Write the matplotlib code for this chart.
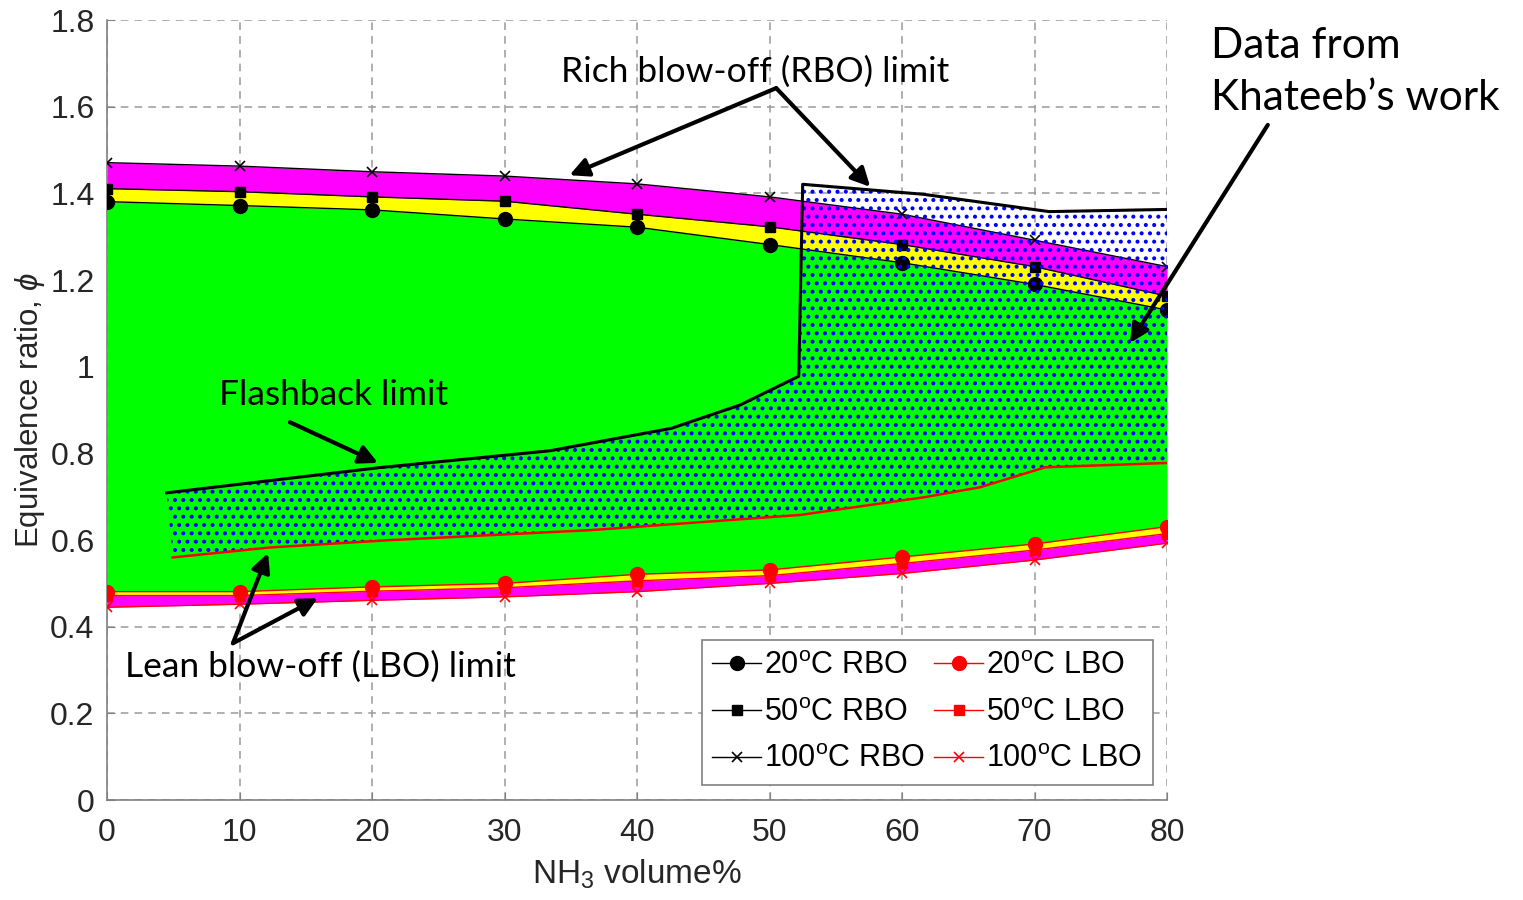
import matplotlib
matplotlib.use("Agg")
import matplotlib.pyplot as plt
from matplotlib.patches import Polygon

# NH3 content of the fuel blend (vol%)
nh3 = [0, 10, 20, 30, 40, 50, 60, 70, 80]

# rich blow-off limits at three inlet temperatures
rbo_20 = [1.381, 1.372, 1.362, 1.341, 1.322, 1.282, 1.240, 1.190, 1.131]
rbo_50 = [1.411, 1.404, 1.392, 1.382, 1.352, 1.323, 1.282, 1.231, 1.163]
rbo_100 = [1.471, 1.463, 1.450, 1.440, 1.422, 1.392, 1.352, 1.292, 1.231]

# lean blow-off limits at three inlet temperatures
lbo_20 = [0.481, 0.481, 0.492, 0.500, 0.521, 0.531, 0.561, 0.591, 0.631]
lbo_50 = [0.472, 0.472, 0.482, 0.490, 0.506, 0.518, 0.546, 0.577, 0.615]
lbo_100 = [0.445, 0.452, 0.461, 0.469, 0.481, 0.500, 0.523, 0.554, 0.593]

# Khateeb's stable region: flashback limit + RBO (upper), LBO (lower)
kh_upper_x = [4.5, 20.5, 33.4, 42.6, 47.8, 52.2, 52.5, 61.6, 71.1, 80.0]
kh_upper_phi = [0.709, 0.767, 0.806, 0.858, 0.912, 0.978, 1.421, 1.398, 1.358, 1.363]
kh_lower_x = [4.95, 12.3, 21.4, 36.5, 52.3, 61.7, 65.9, 70.8, 80.0]
kh_lower_phi = [0.560, 0.583, 0.600, 0.623, 0.658, 0.699, 0.722, 0.768, 0.778]

SANS = ["Liberation Sans", "DejaVu Sans"]
NOTE = ["Lato", "DejaVu Sans"]

plt.rcParams["font.family"] = SANS
plt.rcParams["mathtext.fontset"] = "custom"
plt.rcParams["mathtext.rm"] = "Liberation Sans"
plt.rcParams["mathtext.it"] = "Liberation Sans:italic"
plt.rcParams["hatch.linewidth"] = 1.7


def draw_bands(ax) -> None:
    ax.fill_between(nh3, lbo_20, rbo_20, color="#00ff00", lw=0, zorder=1)
    ax.fill_between(nh3, rbo_20, rbo_50, color="#ffff00", lw=0, zorder=1)
    ax.fill_between(nh3, rbo_50, rbo_100, color="#ff00ff", lw=0, zorder=1)
    ax.fill_between(nh3, lbo_50, lbo_20, color="#ffff00", lw=0, zorder=1)
    ax.fill_between(nh3, lbo_100, lbo_50, color="#ff00ff", lw=0, zorder=1)

    ax.plot(nh3, rbo_20, "-o", color="black", lw=1, ms=10, label="20$^{\\mathrm{o}}$C RBO", zorder=3)
    ax.plot(nh3, rbo_50, "-s", color="black", lw=1, ms=7, label="50$^{\\mathrm{o}}$C RBO", zorder=3)
    ax.plot(nh3, rbo_100, "-x", color="black", lw=1, ms=7, mew=1.2, label="100$^{\\mathrm{o}}$C RBO", zorder=3)
    ax.plot(nh3, lbo_20, "-o", color="red", lw=1, ms=10, label="20$^{\\mathrm{o}}$C LBO", zorder=3)
    ax.plot(nh3, lbo_50, "-s", color="red", lw=1, ms=7, label="50$^{\\mathrm{o}}$C LBO", zorder=3)
    ax.plot(nh3, lbo_100, "-x", color="red", lw=1, ms=7, mew=1.2, label="100$^{\\mathrm{o}}$C LBO", zorder=3)


def draw_khateeb(ax) -> None:
    pts = list(zip(kh_upper_x, kh_upper_phi)) + list(zip(kh_lower_x, kh_lower_phi))[::-1]
    ax.add_patch(Polygon(pts, closed=True, facecolor="none", edgecolor="#0000ff",
                         hatch="..", lw=0, zorder=4))
    ax.plot(kh_upper_x, kh_upper_phi, color="black", lw=2.2, zorder=5)
    ax.plot(kh_lower_x, kh_lower_phi, color="red", lw=1.8, zorder=5)


def arrow(ax, start, end) -> None:
    ax.annotate("", xy=end, xytext=start, annotation_clip=False,
                arrowprops=dict(arrowstyle="-|>", lw=3, color="black",
                                mutation_scale=28, shrinkA=0, shrinkB=0),
                zorder=6)


def draw_notes(ax) -> None:
    ax.text(48.9, 1.68, "Rich blow-off (RBO) limit", fontsize=25.5, family=NOTE,
            ha="center", va="center", zorder=6)
    arrow(ax, (50.5, 1.643), (34.9, 1.442))
    arrow(ax, (50.5, 1.643), (57.6, 1.415))

    ax.text(17.1, 0.935, "Flashback limit", fontsize=25.5, family=NOTE,
            ha="center", va="center", zorder=6)
    arrow(ax, (13.8, 0.872), (20.45, 0.778))

    ax.text(16.1, 0.307, "Lean blow-off (LBO) limit", fontsize=25.5, family=NOTE,
            ha="center", va="center", zorder=6)
    arrow(ax, (9.5, 0.362), (12.15, 0.570))
    arrow(ax, (9.5, 0.362), (15.9, 0.466))

    ax.text(83.3, 1.68, "Data from\nKhateeb\u2019s work", fontsize=30.5, family=NOTE,
            ha="left", va="center", linespacing=1.45, zorder=6)
    arrow(ax, (87.6, 1.558), (77.2, 1.055))


def main() -> None:
    fig = plt.figure(figsize=(15.23, 9.0), dpi=100)
    ax = fig.add_axes([0.0703, 0.111, 0.696, 0.8667])

    draw_bands(ax)
    draw_khateeb(ax)
    draw_notes(ax)

    ax.set_xlim(0, 80)
    ax.set_ylim(0, 1.8)
    ax.set_xticks(nh3)
    ax.set_yticks([0, 0.2, 0.4, 0.6, 0.8, 1.0, 1.2, 1.4, 1.6, 1.8])
    ax.set_yticklabels(["0", "0.2", "0.4", "0.6", "0.8", "1", "1.2", "1.4", "1.6", "1.8"])
    ax.tick_params(direction="in", length=6, color="#808080", labelsize=23,
                   labelcolor="#262626", pad=9)
    ax.tick_params(axis="x", pad=13)

    ax.set_axisbelow(True)
    ax.grid(True, ls=(0, (5, 4)), color="#9a9a9a", lw=1.1)
    for side in ("top", "right"):
        ax.spines[side].set_visible(False)
    for side in ("left", "bottom"):
        ax.spines[side].set_color("#808080")
        ax.spines[side].set_linewidth(1.2)

    ax.set_xlabel("NH$_3$ volume%", fontsize=24, color="#262626", labelpad=7)
    ax.set_ylabel("Equivalence ratio, $\\phi$", fontsize=22.5, color="#262626",
                  labelpad=2)

    leg = ax.legend(ncol=2, loc="lower right", bbox_to_anchor=(0.9868, 0.0192),
                    borderaxespad=0, fontsize=22, handlelength=1.6,
                    handletextpad=0.1, columnspacing=0.3, labelspacing=0.55,
                    borderpad=0.35, fancybox=False, framealpha=1)
    leg.get_frame().set_edgecolor("#808080")
    leg.get_frame().set_linewidth(1.2)
    leg.set_zorder(7)

    fig.savefig("out.png", dpi=100)


if __name__ == "__main__":
    main()
